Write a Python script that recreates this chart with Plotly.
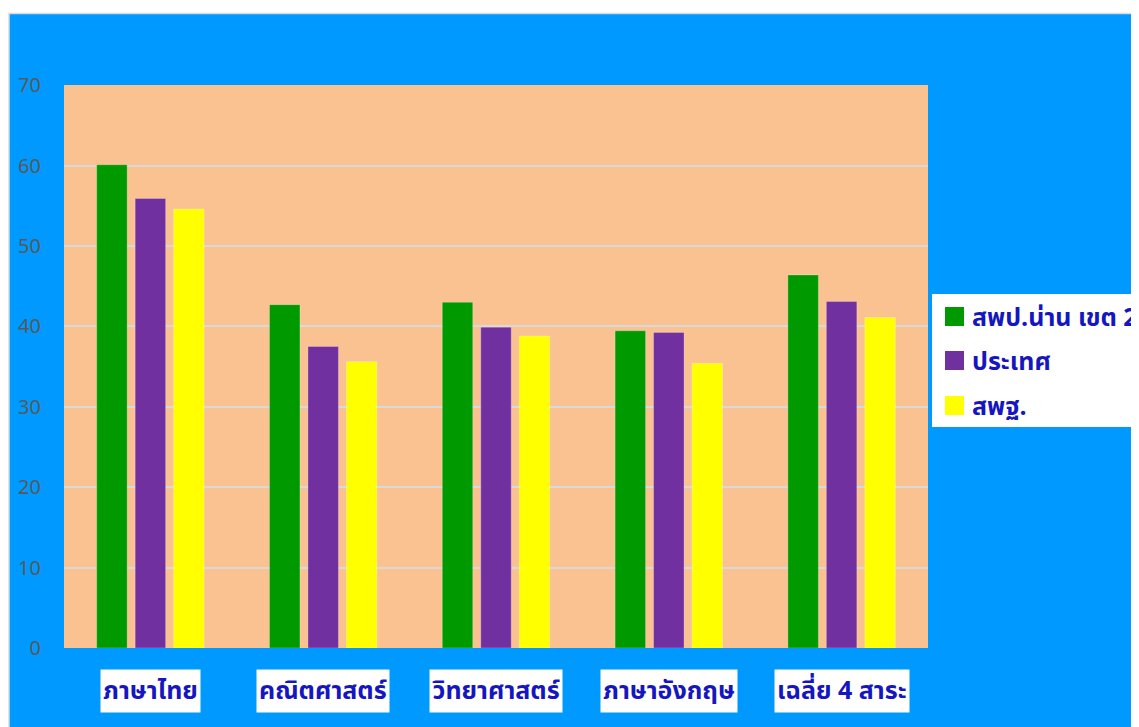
import plotly.graph_objects as go

categories = ["ภาษาไทย", "คณิตศาสตร์", "วิทยาศาสตร์", "ภาษาอังกฤษ", "เฉลี่ย 4 สาระ"]
series_names = ["สพป.น่าน เขต 2", "ประเทศ", "สพฐ."]
nan2 = [60.1, 42.7, 43.0, 39.45, 46.4]
country = [55.9, 37.5, 39.9, 39.25, 43.1]
obec = [54.6, 35.6, 38.8, 35.4, 41.1]
series_values = [nan2, country, obec]
colors = ["#009900", "#7030A0", "#FFFF00"]
y_ticks = [0, 10, 20, 30, 40, 50, 60, 70]

OFF = 8  # page body margin
W, H = 1131, 719
L, T = 64 - OFF, 85 - OFF
PW, PH = 864, 563
R, B = W - L - PW, H - T - PH

def px_x(p):  # page pixel -> paper fraction
    return (p - OFF - L) / PW

def px_y(p):
    return (T + PH - (p - OFF)) / PH

FONT = "Tahoma, Leelawadee UI, Noto Sans Thai, Loma, sans-serif"
TXT = "#1616C0"

fig = go.Figure()
for name, vals, col in zip(series_names, series_values, colors):
    fig.add_trace(go.Bar(
        x=categories, y=vals, name=name,
        marker=dict(color=col, line=dict(color="rgba(255,255,255,0.25)", width=1)),
        showlegend=False,
    ))

shapes = [
    dict(type="rect", xref="paper", yref="paper", layer="below",
         x0=px_x(9), x1=px_x(1160), y0=px_y(13.5), y1=px_y(760),
         fillcolor="#0099FF", line=dict(color="#D9D9D9", width=1.5)),
    dict(type="rect", xref="paper", yref="paper", layer="below",
         x0=0, x1=1, y0=0, y1=1,
         fillcolor="#FAC191", line=dict(width=0)),
    # legend box
    dict(type="rect", xref="paper", yref="paper",
         x0=px_x(932), x1=px_x(1160), y0=px_y(294), y1=px_y(427),
         fillcolor="white", line=dict(width=0)),
]
annotations = []
sq_tops = [307, 351, 396]
for i, (name, col) in enumerate(zip(series_names, colors)):
    t = sq_tops[i]
    shapes.append(dict(type="rect", xref="paper", yref="paper",
                       x0=px_x(945), x1=px_x(964), y0=px_y(t), y1=px_y(t + 19),
                       fillcolor=col, line=dict(width=0)))
    annotations.append(dict(xref="paper", yref="paper", x=px_x(970), y=px_y(t + 11),
                            xanchor="left", yanchor="middle", showarrow=False,
                            text="<b>" + name + "</b>",
                            font=dict(family=FONT, size=25, color=TXT)))

for c in categories:
    annotations.append(dict(xref="x", yref="paper", x=c, y=px_y(691),
                            xanchor="center", yanchor="middle", showarrow=False,
                            text="<b>" + c + "</b>", bgcolor="white", borderpad=2,
                            font=dict(family=FONT, size=25, color=TXT)))

fig.update_layout(
    width=W, height=H,
    margin=dict(l=L, r=R, t=T, b=B, autoexpand=False),
    paper_bgcolor="white",
    plot_bgcolor="#FAC191",
    barmode="group", bargap=0.332, bargroupgap=0.208,
    shapes=shapes, annotations=annotations,
    xaxis=dict(showticklabels=False, showgrid=False, zeroline=False, showline=False),
    yaxis=dict(range=[0, 70.02], tickvals=y_ticks, showgrid=True, gridcolor="#D9D9D9",
               gridwidth=1.5, zeroline=False, showline=False,
               ticks="outside", ticklen=18, tickcolor="rgba(0,0,0,0)",
               tickfont=dict(family="Noto Sans, DejaVu Sans, sans-serif", size=20, color="#595959")),
)

fig.write_html("out.html")
